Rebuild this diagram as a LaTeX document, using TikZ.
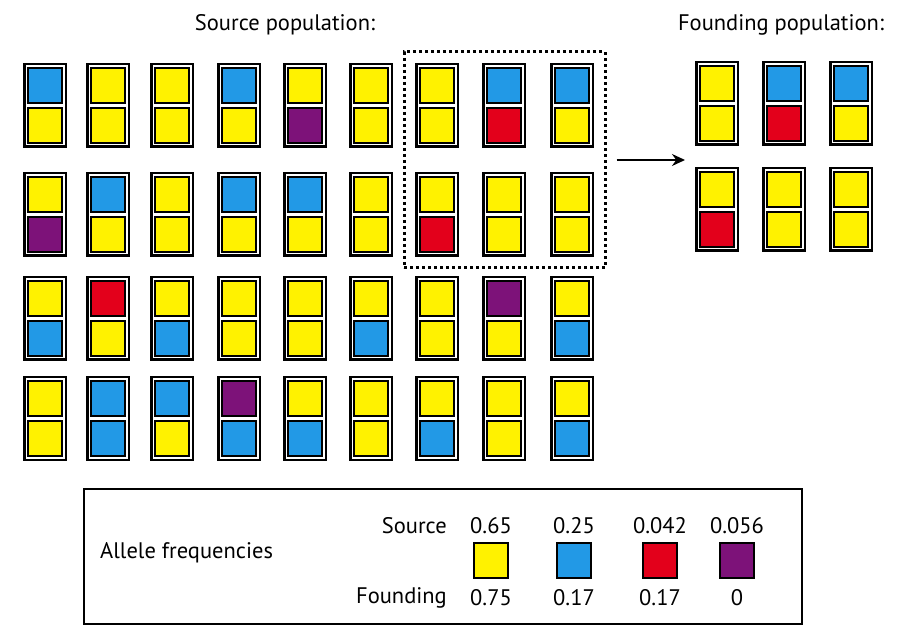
\documentclass[tikz,border=0pt]{standalone}
\usepackage{fontspec}
\setmainfont{PT Sans}
\usepackage{xcolor}
\usepackage{tikz}
\usetikzlibrary{positioning,calc,fit,arrows.meta}

\definecolor{yel}{HTML}{FFF200}
\definecolor{blu}{HTML}{2299E6}
\definecolor{rd}{HTML}{E3001B}
\definecolor{pur}{HTML}{7D1279}

% one individual: frame plus two alleles (top, bottom)
\newcommand{\person}[4]{%
  \node [person] (#1) at (#2) {};
  \node [allele, fill=#3] (#1a) at ($(#1.center)+(0,-20)$) {};
  \node [allele, fill=#4] (#1b) at ($(#1.center)+(0,20)$) {};
}

\begin{document}
\begin{tikzpicture}[x=1pt, y=-1pt,
  person/.style={rectangle, draw, line width=2.5pt, minimum width=41.5pt, minimum height=82.5pt, inner sep=0pt},
  allele/.style={rectangle, draw, line width=2pt, minimum width=34pt, minimum height=35pt, inner sep=0pt},
  title/.style={font=\fontsize{22.5}{26}\selectfont, inner sep=0pt},
  sample box/.style={draw, line width=3pt, dash pattern=on 3pt off 3pt, inner sep=11pt},
  legend box/.style={draw, line width=2pt, minimum width=718pt, minimum height=135pt, inner sep=0pt}]

  \useasboundingbox (0,0) rectangle (900,636);

  \node [title] (srctitle) at (285,25) {Source population:};
  \node [title] (fndtitle) at (781,25) {Founding population:};

  % source population
  \person{s11}{45,105.5}{blu}{yel}
  \person{s12}{108,105.5}{yel}{yel}
  \person{s13}{172,105.5}{yel}{yel}
  \person{s14}{239,105.5}{blu}{yel}
  \person{s15}{305,105.5}{yel}{pur}
  \person{s16}{371,105.5}{yel}{yel}
  \person{s17}{437,105.5}{yel}{yel}
  \person{s18}{504,105.5}{blu}{rd}
  \person{s19}{572,105.5}{blu}{yel}

  \person{s21}{45,214.5}{yel}{pur}
  \person{s22}{108,214.5}{blu}{yel}
  \person{s23}{172,214.5}{yel}{yel}
  \person{s24}{239,214.5}{blu}{yel}
  \person{s25}{305,214.5}{blu}{yel}
  \person{s26}{371,214.5}{yel}{yel}
  \person{s27}{437,214.5}{yel}{rd}
  \person{s28}{504,214.5}{yel}{yel}
  \person{s29}{572,214.5}{yel}{yel}

  \person{s31}{45,318.5}{yel}{blu}
  \person{s32}{108,318.5}{rd}{yel}
  \person{s33}{172,318.5}{yel}{blu}
  \person{s34}{239,318.5}{yel}{yel}
  \person{s35}{305,318.5}{yel}{yel}
  \person{s36}{371,318.5}{yel}{blu}
  \person{s37}{437,318.5}{yel}{yel}
  \person{s38}{504,318.5}{pur}{yel}
  \person{s39}{572,318.5}{yel}{blu}

  \person{s41}{45,418.5}{yel}{yel}
  \person{s42}{108,418.5}{blu}{blu}
  \person{s43}{172,418.5}{blu}{yel}
  \person{s44}{239,418.5}{pur}{blu}
  \person{s45}{305,418.5}{yel}{blu}
  \person{s46}{371,418.5}{yel}{yel}
  \person{s47}{437,418.5}{yel}{blu}
  \person{s48}{504,418.5}{yel}{yel}
  \person{s49}{572,418.5}{yel}{blu}

  % founding population
  \person{f11}{717,103.5}{yel}{yel}
  \person{f12}{784,103.5}{blu}{rd}
  \person{f13}{851,103.5}{blu}{yel}
  \person{f21}{717,209.5}{yel}{rd}
  \person{f22}{784,209.5}{yel}{yel}
  \person{f23}{851,209.5}{yel}{yel}

  \node [sample box, fit=(s17)(s29)] (sample) {};
  \draw [-{Stealth[length=13pt,width=12pt]}, line width=1.5pt, shorten <=10pt, shorten >=10pt]
    (sample.east) -- (sample.east -| f11.west);

  % legend
  \node [legend box] (legend) at (443,556.5) {};
  \node [title, anchor=west] (freqs) at (100,553) {Allele frequencies};
  \node [title, anchor=east] (srclab) at (447,526) {Source};
  \node [title, anchor=east] (fndlab) at (447,598) {Founding};

  \node [allele, fill=yel] (key1) at (491,560.5) {};
  \node [allele, fill=blu] (key2) at (574,560.5) {};
  \node [allele, fill=rd]  (key3) at (660,560.5) {};
  \node [allele, fill=pur] (key4) at (737,560.5) {};

  \node [title] (src1) at (491,526) {0.65};
  \node [title] (src2) at (574,526) {0.25};
  \node [title] (src3) at (660,526) {0.042};
  \node [title] (src4) at (737,526) {0.056};
  \node [title] (fnd1) at (491,598) {0.75};
  \node [title] (fnd2) at (574,598) {0.17};
  \node [title] (fnd3) at (660,598) {0.17};
  \node [title] (fnd4) at (737,598) {0};
\end{tikzpicture}
\end{document}
